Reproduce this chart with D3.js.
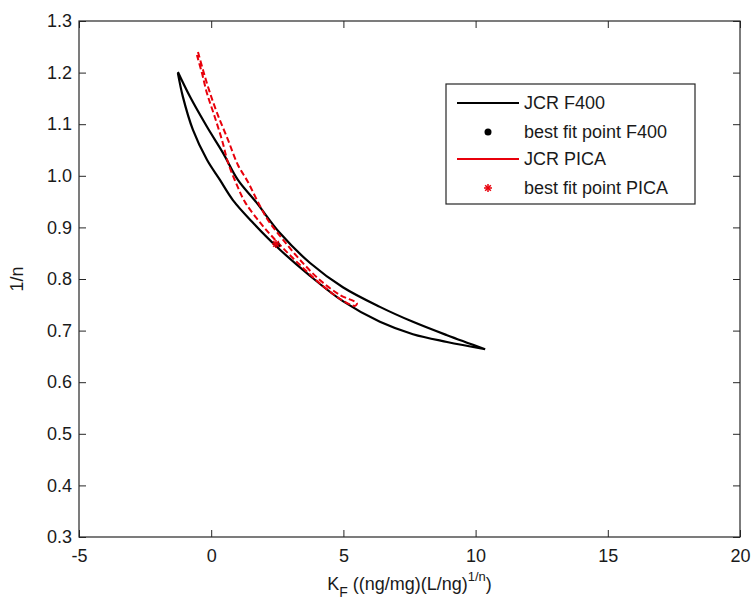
<!DOCTYPE html>
<html>
<head>
<meta charset="utf-8">
<script src="https://cdn.jsdelivr.net/npm/d3@7"></script>
<style>
  body { margin: 0; background: #fff; }
  svg text { font-family: "Liberation Sans", Arial, sans-serif; fill: #1a1a1a; }
</style>
</head>
<body>
<svg id="chart" width="752" height="602"></svg>
<script>
// axis ticks
const xTicks = [-5, 0, 5, 10, 15, 20];
const yTicks = [0.3, 0.4, 0.5, 0.6, 0.7, 0.8, 0.9, 1.0, 1.1, 1.2, 1.3];

// JCR F400 contour (upper branch, tip -> end)
const f400UpperX = [-1.26, -0.80, -0.16, 0.45, 1.01, 1.73, 2.60, 3.74, 4.98, 6.38, 7.63, 8.92, 10.36];
const f400UpperY = [1.201, 1.153, 1.095, 1.044, 0.992, 0.947, 0.889, 0.831, 0.784, 0.746, 0.717, 0.691, 0.664];
// lower branch, tip -> end
const f400LowerX = [-1.26, -1.07, -0.69, -0.16, 0.33, 0.82, 1.58, 2.49, 3.74, 4.98, 6.38, 7.63, 8.92, 10.36];
const f400LowerY = [1.199, 1.153, 1.089, 1.031, 0.992, 0.953, 0.909, 0.862, 0.806, 0.757, 0.717, 0.693, 0.678, 0.664];

// JCR PICA contour (right side going down, then left side going back up)
const picaRightX = [-0.50, -0.31, -0.08, 0.22, 0.64, 1.01, 1.39, 1.73, 2.15, 2.72, 3.36, 4.11, 4.87, 5.51];
const picaRightY = [1.240, 1.205, 1.166, 1.122, 1.069, 1.021, 0.988, 0.953, 0.914, 0.876, 0.837, 0.798, 0.769, 0.753];
const picaLeftX = [5.44, 4.95, 4.19, 3.36, 2.60, 1.92, 1.28, 0.94, 0.64, 0.41, 0.11, -0.16, -0.35, -0.54];
const picaLeftY = [0.748, 0.759, 0.788, 0.827, 0.866, 0.905, 0.949, 0.986, 1.025, 1.069, 1.118, 1.160, 1.199, 1.234];

// best fit points
const bestF400 = [2.5, 0.866];
const bestPica = [2.45, 0.868];

const legendLabels = ["JCR F400", "best fit point F400", "JCR PICA", "best fit point PICA"];

const svg = d3.select("#chart");
const mLeft = 79, mRight = 740, mTop = 21, mBottom = 537;

const x = d3.scaleLinear().domain([-5, 20]).range([mLeft, mRight]);
const y = d3.scaleLinear().domain([0.3, 1.3]).range([mBottom, mTop]);

const zip = (xs, ys) => xs.map((v, i) => [v, ys[i]]);

const line = d3.line()
  .x(d => x(d[0]))
  .y(d => y(d[1]))
  .curve(d3.curveCatmullRom);

// black contour
const f400 = zip(f400UpperX, f400UpperY).concat(zip(f400LowerX, f400LowerY).reverse());
svg.append("path")
  .attr("d", line(f400))
  .attr("fill", "none")
  .attr("stroke", "#000")
  .attr("stroke-width", 2.2);

// red contour
const pica = zip(picaRightX, picaRightY).concat(zip(picaLeftX, picaLeftY));
svg.append("path")
  .attr("d", line(pica))
  .attr("fill", "none")
  .attr("stroke", "#e8000b")
  .attr("stroke-width", 2)
  .attr("stroke-dasharray", "6,3");

const drawStar = (g, cx, cy, r) => {
  for (let a = 0; a < 180; a += 45) {
    let dx = r * Math.cos(a * Math.PI / 180), dy = r * Math.sin(a * Math.PI / 180);
    g.append("line")
      .attr("x1", cx - dx).attr("y1", cy - dy)
      .attr("x2", cx + dx).attr("y2", cy + dy)
      .attr("stroke", "#e8000b")
      .attr("stroke-width", 1.5);
  }
}

svg.append("circle")
  .attr("cx", x(bestF400[0])).attr("cy", y(bestF400[1]))
  .attr("r", 3).attr("fill", "#000");
drawStar(svg.append("g"), x(bestPica[0]), y(bestPica[1]), 4);

// axes, ticks inward on all four sides
const axB = svg.append("g").attr("transform", `translate(0,${mBottom})`)
  .call(d3.axisBottom(x).tickValues(xTicks).tickSize(-7).tickPadding(12).tickFormat(d => String(d)));
const axL = svg.append("g").attr("transform", `translate(${mLeft},0)`)
  .call(d3.axisLeft(y).tickValues(yTicks).tickSize(-7).tickPadding(7).tickFormat(d3.format(".1f")));
const axT = svg.append("g").attr("transform", `translate(0,${mTop})`)
  .call(d3.axisTop(x).tickValues(xTicks).tickSize(-7).tickFormat(""));
const axR = svg.append("g").attr("transform", `translate(${mRight},0)`)
  .call(d3.axisRight(y).tickValues(yTicks).tickSize(-7).tickFormat(""));

[axB, axL, axT, axR].forEach(a => {
  a.select(".domain").remove();
  a.selectAll(".tick line").attr("stroke", "#262626");
  a.selectAll("text").attr("font-size", 18).attr("fill", "#1a1a1a")
    .attr("font-family", "'Liberation Sans', Arial, sans-serif");
});

svg.append("rect")
  .attr("x", mLeft).attr("y", mTop)
  .attr("width", mRight - mLeft).attr("height", mBottom - mTop)
  .attr("fill", "none").attr("stroke", "#262626").attr("stroke-width", 1.2);

// axis labels
const xl = svg.append("text")
  .attr("x", (mLeft + mRight) / 2).attr("y", 590)
  .attr("text-anchor", "middle").attr("font-size", 18);
xl.append("tspan").text("K");
xl.append("tspan").attr("dy", 7).attr("font-size", 14).text("F");
xl.append("tspan").attr("dy", -7).text(" ((ng/mg)(L/ng)");
xl.append("tspan").attr("dy", -9).attr("font-size", 13).text("1/n");
xl.append("tspan").attr("dy", 9).text(")");

svg.append("text")
  .attr("transform", `translate(23,${(mTop + mBottom) / 2}) rotate(-90)`)
  .attr("text-anchor", "middle").attr("font-size", 18)
  .text("1/n");

// legend
const lg = svg.append("g");
lg.append("rect")
  .attr("x", 446).attr("y", 84).attr("width", 249).attr("height", 120)
  .attr("fill", "#fff").attr("stroke", "#262626").attr("stroke-width", 1.2);

const rowY = [103, 132, 159, 188];
legendLabels.forEach((lab, i) => {
  lg.append("text")
    .attr("x", 524).attr("y", rowY[i]).attr("dy", "0.35em")
    .attr("font-size", 18).text(lab);
});
lg.append("line").attr("x1", 457).attr("x2", 519).attr("y1", rowY[0]).attr("y2", rowY[0])
  .attr("stroke", "#000").attr("stroke-width", 2);
lg.append("circle").attr("cx", 488).attr("cy", rowY[1]).attr("r", 3.5).attr("fill", "#000");
lg.append("line").attr("x1", 457).attr("x2", 519).attr("y1", rowY[2]).attr("y2", rowY[2])
  .attr("stroke", "#e8000b").attr("stroke-width", 2);
drawStar(lg, 488, rowY[3], 4);
</script>
</body>
</html>
